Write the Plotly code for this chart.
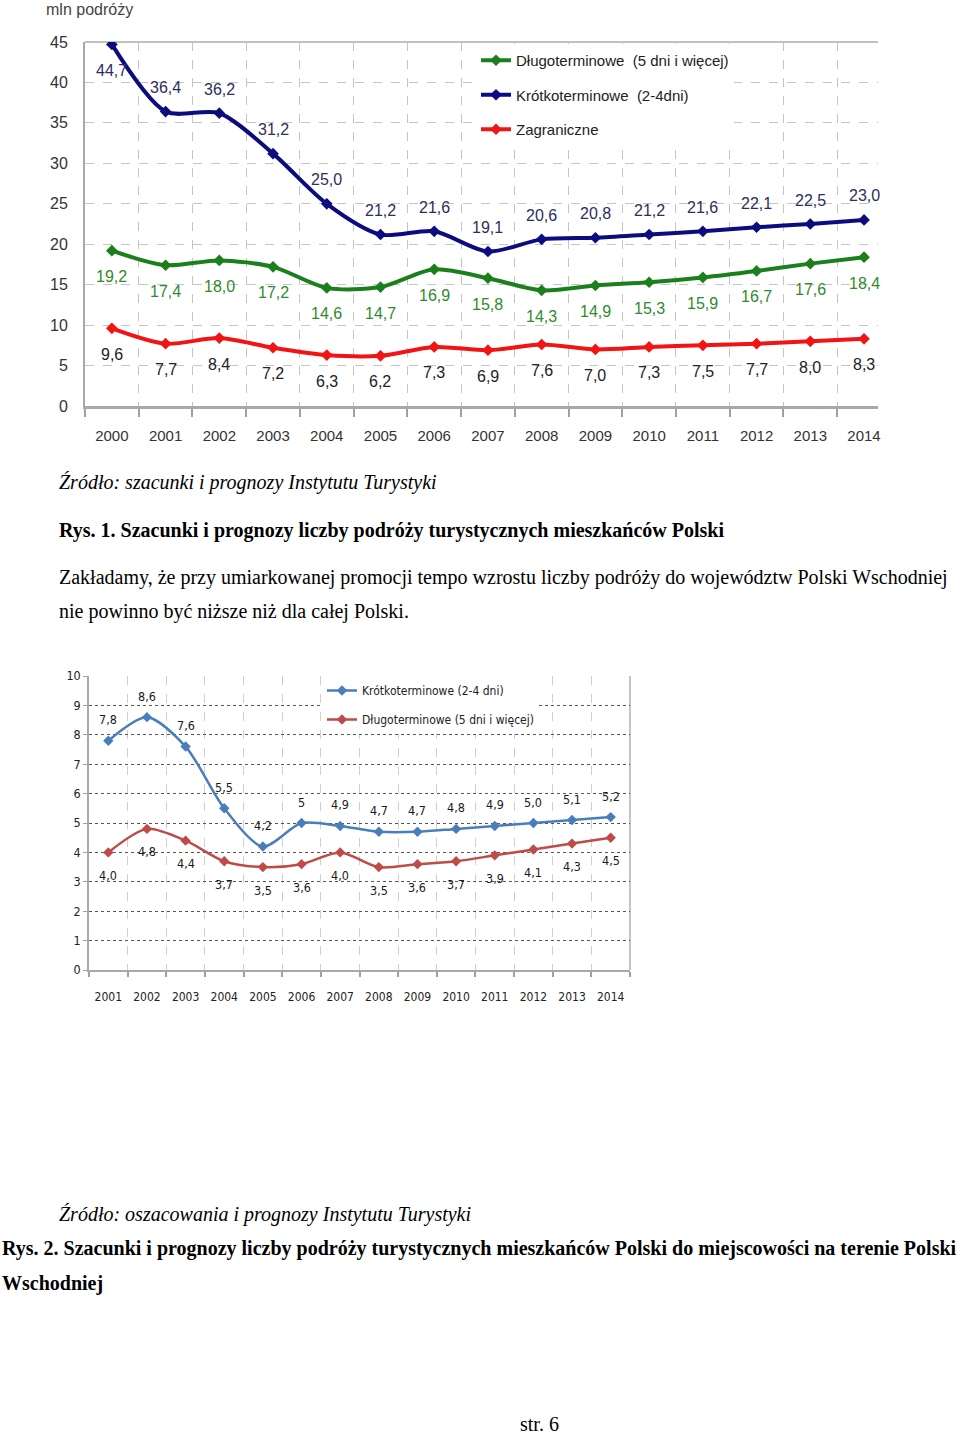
import plotly.graph_objects as go

W, H = 960, 1434


def px(x):
    return x / W


def py(y):
    return 1 - y / H


# ---------------- data: chart 1 ----------------
years1 = ["2000", "2001", "2002", "2003", "2004", "2005", "2006", "2007",
          "2008", "2009", "2010", "2011", "2012", "2013", "2014"]
long1 = [19.2, 17.4, 18.0, 17.2, 14.6, 14.7, 16.9, 15.8, 14.3, 14.9, 15.3, 15.9, 16.7, 17.6, 18.4]
short1 = [44.7, 36.4, 36.2, 31.2, 25.0, 21.2, 21.6, 19.1, 20.6, 20.8, 21.2, 21.6, 22.1, 22.5, 23.0]
abroad1 = [9.6, 7.7, 8.4, 7.2, 6.3, 6.2, 7.3, 6.9, 7.6, 7.0, 7.3, 7.5, 7.7, 8.0, 8.3]
yticks1 = [0, 5, 10, 15, 20, 25, 30, 35, 40, 45]

# ---------------- data: chart 2 ----------------
years2 = ["2001", "2002", "2003", "2004", "2005", "2006", "2007",
          "2008", "2009", "2010", "2011", "2012", "2013", "2014"]
short2 = [7.8, 8.6, 7.6, 5.5, 4.2, 5.0, 4.9, 4.7, 4.7, 4.8, 4.9, 5.0, 5.1, 5.2]
short2_labels = ["7,8", "8,6", "7,6", "5,5", "4,2", "5", "4,9", "4,7", "4,7", "4,8", "4,9", "5,0", "5,1", "5,2"]
long2 = [4.0, 4.8, 4.4, 3.7, 3.5, 3.6, 4.0, 3.5, 3.6, 3.7, 3.9, 4.1, 4.3, 4.5]
yticks2 = [0, 1, 2, 3, 4, 5, 6, 7, 8, 9, 10]


def fmt(v):
    return f"{v:.1f}".replace(".", ",")


NAVY = "#0c0c80"
GREEN = "#1b7f1b"
RED = "#f21414"
BLUE2 = "#4a7ebb"
RED2 = "#be4b48"
F1 = "Liberation Sans, Arial, sans-serif"
F2 = "Liberation Sans Narrow, Arial Narrow, DejaVu Sans Condensed, sans-serif"
SERIF = "Liberation Serif, Times New Roman, serif"

fig = go.Figure()

# chart 1 traces
for name, vals, col in [
    ("Długoterminowe  (5 dni i więcej)", long1, GREEN),
    ("Krótkoterminowe  (2-4dni)", short1, NAVY),
    ("Zagraniczne", abroad1, RED),
]:
    fig.add_trace(go.Scatter(
        x=years1, y=vals, name=name, mode="lines+markers",
        line=dict(color=col, width=4, shape="spline", smoothing=0.8),
        marker=dict(symbol="diamond", size=9, color=col),
        xaxis="x", yaxis="y", legend="legend", legendgroup=name,
        hoverinfo="skip",
    ))

# chart 2 traces
for name, vals, col in [
    ("Krótkoterminowe (2-4 dni)", short2, BLUE2),
    ("Długoterminowe (5 dni i więcej)", long2, RED2),
]:
    fig.add_trace(go.Scatter(
        x=years2, y=vals, name=name, mode="lines+markers",
        line=dict(color=col, width=2.5, shape="spline", smoothing=0.8),
        marker=dict(symbol="diamond", size=8, color=col),
        xaxis="x2", yaxis="y2", legend="legend2", legendgroup=name,
        hoverinfo="skip",
    ))

ann = []
# chart 1 data labels (x given as category index)
for i, v in enumerate(short1):
    ann.append(dict(x=i, y=v, xref="x", yref="y", text=fmt(v), showarrow=False,
                    yshift=(-26 if i == 0 else 24),
                    font=dict(family=F1, size=16, color="#2e2e5c")))
for i, v in enumerate(long1):
    ann.append(dict(x=i, y=v, xref="x", yref="y", text=fmt(v), showarrow=False,
                    yshift=-26, font=dict(family=F1, size=16, color="#2f8a2f")))
for i, v in enumerate(abroad1):
    ann.append(dict(x=i, y=v, xref="x", yref="y", text=fmt(v), showarrow=False,
                    yshift=-26, font=dict(family=F1, size=16, color="#222222")))
# chart 2 data labels
for i, (v, t) in enumerate(zip(short2, short2_labels)):
    ann.append(dict(x=i, y=v, xref="x2", yref="y2", text=t, showarrow=False,
                    yshift=21, font=dict(family=F2, size=12.5, color="#1a1a1a")))
for i, v in enumerate(long2):
    ann.append(dict(x=i, y=v, xref="x2", yref="y2", text=fmt(v), showarrow=False,
                    yshift=-23, font=dict(family=F2, size=12.5, color="#1a1a1a")))

# axis title chart 1
ann.append(dict(x=px(44), y=py(10), xref="paper", yref="paper", xanchor="left", yanchor="middle",
                text="mln podróży", showarrow=False, font=dict(family=F1, size=16, color="#444444")))

# page texts
texts = [
    (57, 483, "<i>Źródło: szacunki i prognozy Instytutu Turystyki</i>", 20),
    (57, 530, "<b>Rys. 1. Szacunki i prognozy liczby podróży turystycznych mieszkańców Polski</b>", 20),
    (57, 577, "Zakładamy, że przy umiarkowanej promocji tempo wzrostu liczby podróży do województw Polski Wschodniej", 20),
    (57, 611, "nie powinno być niższe niż dla całej Polski.", 20),
    (57, 1214, "<i>Źródło: oszacowania i prognozy Instytutu Turystyki</i>", 20),
    (0, 1248, "<b>Rys. 2. Szacunki i prognozy liczby podróży turystycznych mieszkańców Polski do miejscowości na terenie Polski</b>", 20),
    (0, 1283, "<b>Wschodniej</b>", 20),
    (518, 1424, "str. 6", 20),
]
for x, y, t, s in texts:
    ann.append(dict(x=px(x), y=py(y), xref="paper", yref="paper", xanchor="left", yanchor="middle",
                    text=t, showarrow=False, font=dict(family=SERIF, size=s, color="#000000")))

shapes = [
    # chart 1 top border
    dict(type="line", xref="x domain", yref="y domain", x0=0, x1=1, y0=1, y1=1,
         line=dict(color="#c0c0c0", width=2), layer="below"),
    # chart 2 right border
    dict(type="line", xref="x2 domain", yref="y2 domain", x0=1, x1=1, y0=0, y1=1,
         line=dict(color="#b0b0b0", width=1.5), layer="below"),
]

fig.update_layout(
    width=W, height=H, autosize=False,
    margin=dict(l=0, r=0, t=0, b=0, pad=0, autoexpand=False),
    paper_bgcolor="white", plot_bgcolor="white",
    showlegend=True,
    annotations=ann,
    shapes=shapes,
    xaxis=dict(
        domain=[px(85), px(878)], anchor="y", type="category", range=[-0.5, 14.26],
        tickson="boundaries", ticks="outside", ticklen=8, tickcolor="#a0a0a0", tickwidth=2,
        showgrid=True, gridcolor="#c4c4c4", griddash="dash", gridwidth=1,
        showline=True, linecolor="#a8a8a8", linewidth=3, automargin=False,
        tickfont=dict(family=F1, size=15, color="#333333"), ticklabelstandoff=14,
        fixedrange=True,
    ),
    yaxis=dict(
        domain=[py(406), py(42)], anchor="x", range=[0, 45], tickvals=yticks1,
        showgrid=True, gridcolor="#c4c4c4", griddash="dash", gridwidth=1,
        showline=True, linecolor="#a8a8a8", linewidth=2, zeroline=False, ticks="",
        tickfont=dict(family=F1, size=16, color="#333333"), ticklabelstandoff=12,
        fixedrange=True, automargin=False,
    ),
    xaxis2=dict(
        domain=[px(89), px(630)], anchor="y2", type="category", range=[-0.5, 13.5],
        tickson="boundaries", ticks="outside", ticklen=5, tickcolor="#a0a0a0", tickwidth=1.5,
        showgrid=True, gridcolor="#cfcfcf", griddash="dash", gridwidth=1,
        showline=True, linecolor="#a8a8a8", linewidth=2, automargin=False,
        tickfont=dict(family=F2, size=12, color="#222222"), ticklabelstandoff=15,
        fixedrange=True,
    ),
    yaxis2=dict(
        domain=[py(970), py(676)], anchor="x2", range=[0, 10], tickvals=yticks2,
        showgrid=True, gridcolor="#555555", griddash="dot", gridwidth=1,
        showline=True, linecolor="#a8a8a8", linewidth=1.5, zeroline=False,
        ticks="outside", ticklen=4, tickcolor="#a0a0a0", automargin=False,
        tickfont=dict(family=F2, size=12.5, color="#222222"), ticklabelstandoff=0,
        fixedrange=True,
    ),
    legend=dict(
        x=px(476), y=py(44), xanchor="left", yanchor="top", bgcolor="white",
        font=dict(family=F1, size=15, color="#222222"), tracegroupgap=12,
        itemwidth=30, borderwidth=0,
    ),
    legend2=dict(
        x=px(322), y=py(676), xanchor="left", yanchor="top", bgcolor="white",
        font=dict(family=F2, size=12, color="#222222"), tracegroupgap=10,
        itemwidth=30, borderwidth=0,
    ),
)

fig.write_html("out.html", config={"responsive": False})
